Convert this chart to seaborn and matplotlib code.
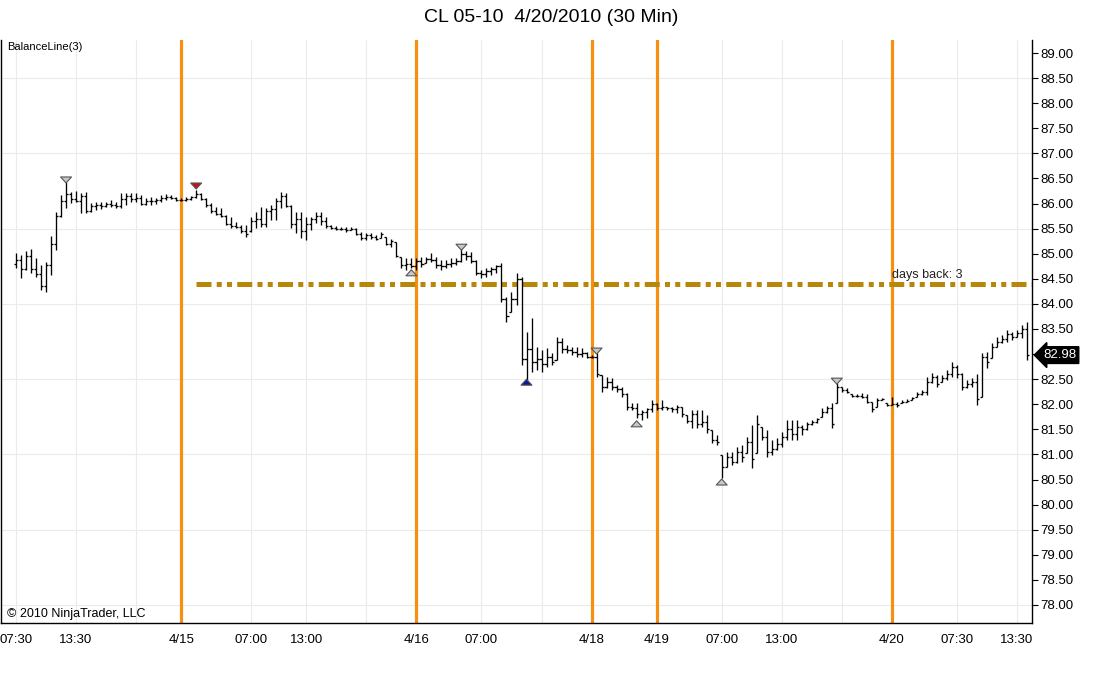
import matplotlib
matplotlib.use("Agg")
import numpy as np
import pandas as pd
import matplotlib.pyplot as plt
import matplotlib.transforms as mtransforms
from matplotlib.path import Path
import seaborn as sns

# 30 minute bars, CL 05-10
highs = [
    85.01, 84.97, 85.05, 85.09, 84.91, 84.77, 84.83, 85.35, 85.83, 86.17,
    86.43, 86.23, 86.25, 86.21, 86.23, 86.01, 86.03, 86.03, 86.03, 86.07,
    86.03, 86.21, 86.21, 86.21, 86.21, 86.17, 86.11, 86.13, 86.11, 86.17,
    86.19, 86.17, 86.13, 86.11, 86.13, 86.15, 86.27, 86.21, 86.11, 86.01,
    85.93, 85.91, 85.77, 85.73, 85.63, 85.57, 85.57, 85.73, 85.83, 85.93,
    85.91, 85.97, 86.11, 86.23, 86.21, 85.97, 85.83, 85.83, 85.73, 85.73,
    85.83, 85.83, 85.73, 85.57, 85.55, 85.53, 85.53, 85.53, 85.51, 85.43,
    85.41, 85.41, 85.37, 85.43, 85.33, 85.29, 85.23, 84.93, 84.91, 84.91,
    84.91, 84.93, 84.93, 85.01, 84.93, 84.87, 84.87, 84.91, 84.91, 85.11,
    85.05, 85.03, 84.87, 84.68, 84.72, 84.74, 84.78, 84.82, 84.14, 84.24,
    84.62, 84.54, 83.44, 83.72, 83.14, 83.08, 83.12, 83.02, 83.34, 83.32,
    83.18, 83.14, 83.14, 83.12, 83.04, 82.98, 83.02, 82.58, 82.54, 82.52,
    82.38, 82.34, 82.22, 82.02, 82.02, 81.89, 81.93, 82.08, 82.02, 82.08,
    81.95, 81.95, 81.98, 81.95, 81.79, 81.89, 81.89, 81.89, 81.79, 81.49,
    81.39, 80.99, 81.05, 81.05, 81.15, 81.19, 81.35, 81.59, 81.79, 81.55,
    81.49, 81.29, 81.33, 81.45, 81.69, 81.69, 81.69, 81.59, 81.65, 81.69,
    81.73, 81.93, 81.97, 82.02, 82.42, 82.34, 82.32, 82.20, 82.20, 82.22,
    82.20, 82.04, 82.12, 82.12, 82.02, 82.14, 82.04, 82.08, 82.10, 82.14,
    82.24, 82.28, 82.54, 82.62, 82.58, 82.58, 82.68, 82.84, 82.78, 82.62,
    82.48, 82.52, 82.60, 83.02, 83.04, 83.22, 83.34, 83.38, 83.48, 83.44,
    83.48, 83.58, 83.64]
lows = [
    84.72, 84.52, 84.68, 84.62, 84.54, 84.28, 84.24, 84.58, 85.07, 85.73,
    85.91, 86.01, 86.03, 85.81, 85.81, 85.83, 85.87, 85.89, 85.93, 85.93,
    85.91, 85.91, 85.97, 86.03, 86.03, 85.97, 85.97, 85.97, 85.99, 86.03,
    86.07, 86.09, 86.05, 86.05, 86.05, 86.07, 86.11, 86.07, 85.93, 85.81,
    85.77, 85.73, 85.57, 85.51, 85.51, 85.41, 85.33, 85.43, 85.51, 85.53,
    85.53, 85.67, 85.67, 85.91, 85.93, 85.51, 85.41, 85.31, 85.27, 85.47,
    85.61, 85.57, 85.51, 85.49, 85.47, 85.47, 85.43, 85.47, 85.37, 85.27,
    85.27, 85.29, 85.27, 85.31, 85.17, 85.13, 84.93, 84.72, 84.68, 84.72,
    84.68, 84.74, 84.82, 84.83, 84.72, 84.68, 84.72, 84.74, 84.78, 84.83,
    84.87, 84.82, 84.58, 84.52, 84.54, 84.58, 84.62, 84.04, 83.64, 83.84,
    83.98, 82.78, 82.48, 82.64, 82.68, 82.64, 82.74, 82.78, 82.88, 83.02,
    83.02, 82.98, 82.94, 82.94, 82.92, 82.92, 82.54, 82.24, 82.32, 82.28,
    82.24, 82.14, 81.89, 81.89, 81.73, 81.69, 81.73, 81.85, 81.89, 81.89,
    81.89, 81.85, 81.83, 81.75, 81.63, 81.53, 81.53, 81.55, 81.43, 81.23,
    81.19, 80.53, 80.75, 80.79, 80.83, 80.85, 81.03, 80.73, 81.03, 81.29,
    80.95, 80.99, 81.09, 81.15, 81.29, 81.29, 81.29, 81.39, 81.49, 81.59,
    81.63, 81.75, 81.83, 81.53, 82.02, 82.24, 82.22, 82.14, 82.14, 82.12,
    82.02, 81.85, 81.95, 82.08, 81.97, 81.98, 81.95, 82.02, 82.04, 82.08,
    82.14, 82.18, 82.18, 82.42, 82.34, 82.44, 82.48, 82.54, 82.52, 82.28,
    82.32, 82.34, 81.98, 82.14, 82.72, 82.92, 83.14, 83.22, 83.24, 83.28,
    83.34, 83.32, 82.88]
opens = [
    84.80, 84.88, 84.70, 84.95, 84.70, 84.60, 84.35, 84.78, 85.20, 85.75,
    86.05, 86.20, 86.10, 86.05, 86.15, 85.85, 85.95, 85.98, 85.95, 86.00,
    85.97, 85.95, 86.10, 86.15, 86.10, 86.12, 86.00, 86.05, 86.05, 86.07,
    86.12, 86.13, 86.11, 86.07, 86.08, 86.10, 86.13, 86.20, 86.10, 85.97,
    85.85, 85.80, 85.75, 85.60, 85.55, 85.53, 85.45, 85.45, 85.65, 85.70,
    85.60, 85.85, 85.90, 86.05, 86.15, 85.95, 85.60, 85.70, 85.45, 85.60,
    85.70, 85.75, 85.65, 85.55, 85.52, 85.50, 85.49, 85.47, 85.50, 85.40,
    85.32, 85.38, 85.33, 85.31, 85.33, 85.20, 85.23, 84.93, 84.78, 84.80,
    84.75, 84.85, 84.82, 84.90, 84.88, 84.78, 84.75, 84.80, 84.82, 84.85,
    85.00, 84.95, 84.85, 84.62, 84.60, 84.65, 84.70, 84.75, 84.10, 83.84,
    84.10, 84.50, 82.90, 83.10, 82.85, 82.90, 82.80, 82.95, 82.88, 83.25,
    83.10, 83.08, 83.05, 83.00, 83.02, 82.95, 82.94, 82.58, 82.35, 82.45,
    82.35, 82.30, 82.20, 81.95, 81.92, 81.80, 81.85, 81.90, 82.00, 81.93,
    81.95, 81.92, 81.90, 81.95, 81.79, 81.67, 81.80, 81.60, 81.65, 81.49,
    81.28, 80.99, 80.75, 80.95, 80.85, 81.05, 81.03, 81.25, 81.03, 81.55,
    81.35, 81.05, 81.10, 81.20, 81.35, 81.50, 81.40, 81.55, 81.50, 81.60,
    81.65, 81.75, 81.85, 81.93, 82.02, 82.34, 82.28, 82.20, 82.16, 82.17,
    82.14, 82.04, 81.95, 82.08, 82.02, 81.99, 82.00, 82.02, 82.05, 82.08,
    82.14, 82.20, 82.25, 82.45, 82.55, 82.44, 82.52, 82.60, 82.75, 82.60,
    82.35, 82.40, 82.45, 82.14, 82.95, 82.92, 83.15, 83.25, 83.30, 83.40,
    83.35, 83.42, 83.50]
closes = [
    84.88, 84.70, 84.95, 84.70, 84.60, 84.35, 84.78, 85.20, 85.75, 86.05,
    86.20, 86.10, 86.05, 86.15, 85.85, 85.95, 85.98, 85.95, 86.00, 85.97,
    85.95, 86.10, 86.15, 86.10, 86.12, 86.00, 86.05, 86.05, 86.07, 86.12,
    86.13, 86.11, 86.07, 86.08, 86.10, 86.13, 86.20, 86.10, 85.97, 85.85,
    85.80, 85.75, 85.60, 85.55, 85.53, 85.45, 85.40, 85.65, 85.70, 85.60,
    85.85, 85.90, 86.05, 86.15, 85.95, 85.60, 85.70, 85.45, 85.60, 85.70,
    85.75, 85.65, 85.55, 85.52, 85.50, 85.49, 85.47, 85.50, 85.40, 85.32,
    85.38, 85.33, 85.30, 85.40, 85.20, 85.25, 84.95, 84.78, 84.80, 84.75,
    84.85, 84.80, 84.90, 84.88, 84.78, 84.75, 84.80, 84.82, 84.85, 85.00,
    84.95, 84.85, 84.62, 84.60, 84.65, 84.70, 84.75, 84.10, 83.75, 84.10,
    84.50, 82.90, 83.10, 82.85, 82.90, 82.80, 82.95, 82.85, 83.25, 83.10,
    83.08, 83.05, 83.00, 83.02, 82.95, 82.94, 82.60, 82.35, 82.45, 82.35,
    82.30, 82.20, 81.95, 81.92, 81.80, 81.85, 81.90, 82.00, 81.93, 81.95,
    81.92, 81.90, 81.95, 81.80, 81.67, 81.80, 81.60, 81.65, 81.50, 81.28,
    81.25, 80.75, 80.95, 80.85, 81.05, 80.95, 81.25, 80.90, 81.60, 81.35,
    81.05, 81.10, 81.20, 81.35, 81.50, 81.40, 81.55, 81.50, 81.60, 81.65,
    81.70, 81.85, 81.93, 81.60, 82.35, 82.28, 82.25, 82.16, 82.17, 82.14,
    82.04, 81.90, 82.08, 82.10, 81.99, 82.00, 81.98, 82.05, 82.07, 82.12,
    82.20, 82.25, 82.45, 82.55, 82.40, 82.52, 82.60, 82.75, 82.60, 82.35,
    82.40, 82.45, 82.10, 82.95, 82.85, 83.15, 83.25, 83.30, 83.40, 83.35,
    83.42, 83.50, 82.98]

# swing markers (bar index, price, kind)
signal_bars = [10, 36, 79, 89, 102, 116, 124, 141, 164]
signal_prices = [86.47, 86.35, 84.62, 85.13, 82.44, 83.06, 81.61, 80.45, 82.46]
signal_kinds = ["swing high", "balance high", "swing low", "swing high", "balance low",
                "swing high", "swing low", "swing low", "swing high"]

# session starts and time axis
session_bars = [33, 80, 115, 128, 175]
tick_bars = [0, 12, 24, 33, 47, 58, 70, 80, 93, 105, 115, 128, 141, 153, 165, 175, 188, 200]
tick_labels = ["07:30", "13:30", "", "4/15", "07:00", "13:00", "", "4/16", "07:00", "",
               "4/18", "4/19", "07:00", "13:00", "", "4/20", "07:30", "13:30"]

balance_level = 84.40
balance_start = 36
days_back = 3
last_price = 82.98

sns.set_theme(style="white")
plt.rcParams["font.family"] = ["Liberation Sans", "DejaVu Sans"]

bars = pd.DataFrame({"bar": np.arange(len(highs)), "open": opens, "high": highs,
                     "low": lows, "close": closes})
signals = pd.DataFrame({"bar": signal_bars, "price": signal_prices, "kind": signal_kinds})

fig = plt.figure(figsize=(11.08, 6.75), dpi=100)
ax = fig.add_axes([1 / 1108, 52 / 675, 1031 / 1108, 583 / 675])
ax.set_xlim(-3.0, 203.0)
ax.set_ylim(77.64, 89.26)

# grid
for v in np.arange(78.0, 89.0, 1.5):
    ax.axhline(v, color="#ebebeb", lw=0.8, zorder=0)
for t in tick_bars:
    ax.axvline(t, color="#ebebeb", lw=0.8, zorder=0)

# session lines
for s in session_bars:
    ax.axvline(s, color="#f7900f", lw=2.3, zorder=1)

# OHLC bars
ax.vlines(bars["bar"], bars["low"], bars["high"], color="black", lw=0.95, zorder=3)
ax.hlines(bars["open"], bars["bar"] - 0.42, bars["bar"], color="black", lw=0.95, zorder=3)
ax.hlines(bars["close"], bars["bar"], bars["bar"] + 0.42, color="black", lw=0.95, zorder=3)

# balance line
ax.hlines(balance_level, balance_start, ax.get_xlim()[1], color="#b8860b", lw=3.6,
          linestyles=[(0, (3.0, 1.05, 1.0, 1.05, 1.0, 1.05))], capstyle="butt", zorder=2)
ax.text(session_bars[-1], balance_level + 0.05, f"days back: {days_back}",
        fontsize=9, color="#222222", ha="left", va="bottom", zorder=4)

# triangle markers
tri_down = Path([(-1, 0.55), (1, 0.55), (0, -0.55), (-1, 0.55)], closed=True)
tri_up = Path([(-1, -0.55), (1, -0.55), (0, 0.55), (-1, -0.55)], closed=True)
sns.scatterplot(data=signals, x="bar", y="price", hue="kind", style="kind",
                markers={"swing high": tri_down, "balance high": tri_down,
                         "swing low": tri_up, "balance low": tri_up},
                palette={"swing high": "#c8c8c8", "balance high": "#c0141a",
                         "swing low": "#c8c8c8", "balance low": "#0a1aa0"},
                s=62, edgecolor="#555555", linewidth=0.8, legend=False, zorder=5, ax=ax)
ax.set_xlabel("")
ax.set_ylabel("")

# axes styling
ax.yaxis.tick_right()
yt = np.arange(78.0, 89.01, 0.5)
ax.set_yticks(yt)
ax.set_yticklabels(["" if abs(v - 83.0) < 1e-6 else f"{v:.2f}" for v in yt], fontsize=9.5)
ax.set_xticks(tick_bars)
ax.set_xticklabels(tick_labels, fontsize=9.5)
ax.tick_params(axis="both", direction="out", length=4, width=0.8, color="black",
               labelcolor="black", pad=2)
ax.tick_params(axis="x", length=5, pad=3)
ax.tick_params(axis="y", right=True, left=False)
for side in ["left", "right", "bottom"]:
    ax.spines[side].set_visible(True)
    ax.spines[side].set_color("black")
    ax.spines[side].set_linewidth(1.0)
ax.spines["top"].set_visible(False)

# last price marker
trans = mtransforms.blended_transform_factory(ax.transAxes, ax.transData)
ax.text(1.027, last_price, f"{last_price:.2f}", transform=trans, ha="center", va="center",
        fontsize=9.5, color="white", zorder=10, clip_on=False,
        bbox=dict(boxstyle="larrow,pad=0.18", fc="black", ec="black"))

ax.text(6 / 1031, 0.996, "BalanceLine(3)", transform=ax.transAxes, fontsize=8,
        ha="left", va="top", color="black")
ax.text(6 / 1031, 0.005, "\u00a9 2010 NinjaTrader, LLC", transform=ax.transAxes,
        fontsize=9, ha="left", va="bottom", color="black")

fig.text(551 / 1108, 1 - 17 / 675, "CL 05-10  4/20/2010 (30 Min)", fontsize=14,
         ha="center", va="center", color="black")

fig.savefig("out.png", dpi=100, facecolor="white")
